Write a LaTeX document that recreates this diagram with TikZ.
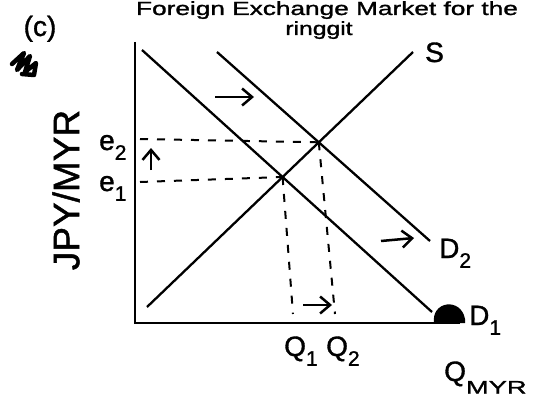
\documentclass[tikz,border=0pt]{standalone}
\usepackage{fontspec}
\setmainfont{Liberation Sans}[FakeBold=1.2]
\usetikzlibrary{arrows.meta}
\newcommand\lowsub[1]{\raisebox{-0.35em}{\scalebox{0.75}{#1}}}
\begin{document}
\begin{tikzpicture}[x=1pt,y=-1pt,
  curve/.style={line width=2.3pt},
  axisline/.style={line width=2.8pt},
  guide/.style={line width=2pt, dash pattern=on 8pt off 9pt},
  shiftarrow/.style={line width=2.5pt, -{Straight Barb[length=10pt,width=17pt]}},
  lbl/.style={inner sep=0pt, anchor=base west, font=\fontsize{28}{30}\selectfont},
  ttl/.style={inner sep=0pt, anchor=base, font=\fontsize{19}{21}\selectfont}]
\useasboundingbox (0,0) rectangle (535,396);
% title and panel tag
\node[ttl] (title1) at (327,15) {\scalebox{1.38}[1]{Foreign Exchange Market for the}};
\node[ttl] (title2) at (319,35) {\scalebox{1.3}[1]{ringgit}};
\node[inner sep=0pt, anchor=base, font=\fontsize{28}{30}\selectfont] (tag) at (40,36) {(c)};
% scribble
\draw[line width=4.5pt, line join=round, line cap=round]
  (12,64) -- (24,53) -- (17,70) -- (30,56) -- (25,72) -- (36,63) -- (34,75) -- (22,74);
% axes
\coordinate (yt) at (135,42);
\coordinate (o) at (135,323);
\coordinate (xr) at (460,323);
\draw[axisline] (yt) -- (o) -- (xr);
% curves
\coordinate (d1a) at (142,50);
\coordinate (d1b) at (432,312);
\coordinate (d2a) at (217,52);
\coordinate (d2b) at (430,241);
\coordinate (sa) at (147,307);
\coordinate (sb) at (413,52);
\draw[curve] (d1a) -- (d1b);
\draw[curve] (d2a) -- (d2b);
\draw[curve] (sa) -- (sb);
\coordinate (e1) at (intersection of d1a--d1b and sa--sb);
\coordinate (e2) at (intersection of d2a--d2b and sa--sb);
% blob at end of D1
\fill (434,323) .. controls (431,301) and (461,297) .. (465,319) -- (465,323) -- cycle;
% guides
\coordinate (e1l) at (140,182);
\coordinate (e2l) at (140,139);
\coordinate (q1b) at (293,314);
\coordinate (q2b) at (335,314);
\draw[guide] (e2l) -- (e2);
\draw[guide] (e1l) -- (e1);
\draw[guide] (e1) -- (q1b);
\draw[guide] (e2) -- (q2b);
% shift arrows
\coordinate (a1s) at (215,97);  \coordinate (a1e) at (254,97);
\coordinate (a2s) at (381,241); \coordinate (a2e) at (414,238);
\coordinate (a3s) at (151,170); \coordinate (a3e) at (151,148);
\coordinate (a4s) at (303,305); \coordinate (a4e) at (332,305);
\draw[shiftarrow] (a1s) -- (a1e);
\draw[shiftarrow] (a2s) -- (a2e);
\draw[shiftarrow] (a3s) -- (a3e);
\draw[shiftarrow] (a4s) -- (a4e);
% labels
\node[lbl] (slab) at (425,62) {S};
\node[lbl] (d2lab) at (439,258) {D\lowsub{2}};
\node[lbl] (d1lab) at (469,325) {D\lowsub{1}};
\node[lbl] (e2lab) at (99,150) {e\lowsub{2}};
\node[lbl] (e1lab) at (99,191) {e\lowsub{1}};
\node[lbl] (q1lab) at (284,356) {Q\lowsub{1}};
\node[lbl] (q2lab) at (326,356) {Q\lowsub{2}};
\node[lbl] (qlab) at (444,381) {Q\raisebox{-0.45em}{\scalebox{0.75}[0.65]{\scalebox{1.3}[1]{MYR}}}};
\node[inner sep=0pt, rotate=90, font=\fontsize{37}{39}\selectfont] (ylab) at (66,190) {JPY/MYR};
\end{tikzpicture}
\end{document}
